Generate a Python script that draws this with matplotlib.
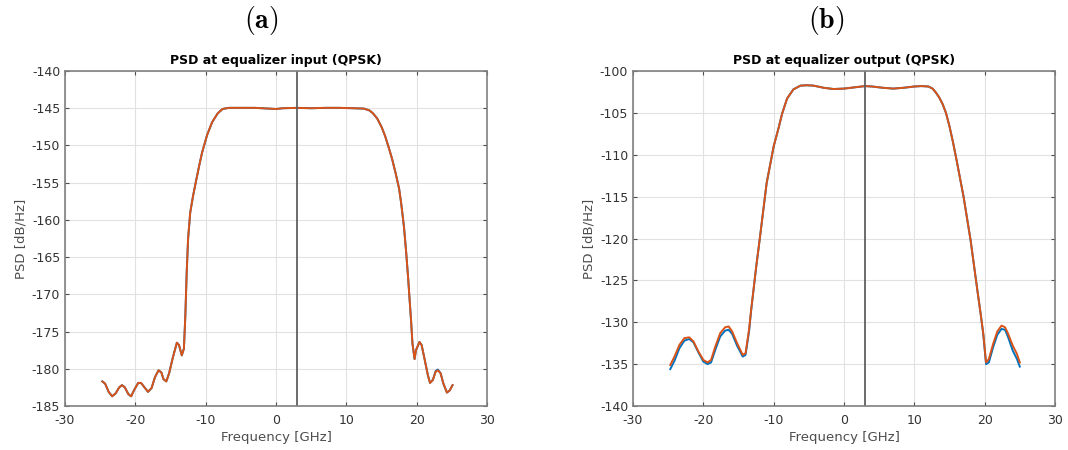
import numpy as np
import matplotlib.pyplot as plt

### Data.
# (a) PSD at equalizer input
freq_in = [-24.7, -24.3, -23.8, -23.3, -22.8, -22.3, -21.9, -21.5, -21.0, -20.6,
           -20.2, -19.6, -19.2, -18.7, -18.2, -17.7, -17.2, -16.7, -16.3, -16.0,
           -15.6, -15.2, -14.7, -14.1, -13.8, -13.4, -13.1, -12.9, -12.7, -12.5,
           -12.2, -11.8, -11.4, -10.9, -10.5, -9.8, -9.1, -8.3, -7.6, -6.7,
           -5.0, -3.0, -1.0, 0.0, 1.0, 3.0, 5.0, 7.0, 9.0, 11.0,
           12.5, 13.3, 13.8, 14.4, 15.0, 15.5, 16.0, 16.5, 17.0, 17.5,
           17.8, 18.2, 18.5, 18.8, 19.0, 19.2, 19.4, 19.7, 19.9, 20.4,
           20.7, 21.1, 21.6, 21.9, 22.3, 22.7, 23.0, 23.4, 23.8, 24.3,
           24.7, 25.1]
psd_in_orange = [-181.7, -182.0, -183.1, -183.7, -183.3, -182.5, -182.2, -182.5, -183.4, -183.7,
                 -182.9, -181.9, -181.9, -182.5, -183.1, -182.6, -181.1, -180.2, -180.5, -181.4,
                 -181.7, -180.6, -178.6, -176.5, -176.8, -178.2, -177.3, -173.0, -167.0, -162.5,
                 -159.0, -156.8, -154.9, -152.6, -150.9, -148.6, -146.9, -145.7, -145.1, -144.95,
                 -144.95, -144.95, -145.05, -145.1, -145.0, -144.95, -145.0, -144.95, -144.95, -145.0,
                 -145.05, -145.3, -145.7, -146.4, -147.5, -148.7, -150.2, -151.8, -153.7, -155.8,
                 -157.8, -161.0, -164.3, -168.0, -170.8, -173.5, -176.6, -178.7, -177.5, -176.4,
                 -176.8, -178.6, -180.9, -181.9, -181.5, -180.4, -180.2, -180.6, -182.0, -183.2,
                 -182.9, -182.2]
psd_in_blue = [-181.7, -182.0, -183.1, -183.7, -183.3, -182.5, -182.2, -182.5, -183.4, -183.7,
               -182.9, -181.9, -181.9, -182.5, -183.1, -182.6, -181.1, -180.2, -180.5, -181.4,
               -181.7, -180.6, -178.6, -176.5, -176.8, -178.2, -177.3, -173.0, -167.0, -162.5,
               -159.0, -156.8, -154.9, -152.6, -150.9, -148.6, -146.9, -145.7, -145.1, -144.95,
               -144.95, -144.95, -145.05, -145.1, -145.0, -144.95, -145.0, -144.95, -144.95, -145.0,
               -145.05, -145.3, -145.7, -146.4, -147.5, -148.7, -150.2, -151.8, -153.7, -155.8,
               -157.8, -161.0, -164.3, -168.0, -170.8, -173.5, -176.6, -178.7, -177.5, -176.4,
               -176.8, -178.6, -180.9, -181.9, -181.5, -180.3, -180.1, -180.6, -182.0, -183.2,
               -182.9, -182.2]

# (b) PSD at equalizer output
freq_out = [-24.7, -24.1, -23.4, -22.7, -22.0, -21.4, -20.7, -20.0, -19.4, -18.9,
            -18.3, -17.6, -16.9, -16.4, -15.9, -15.2, -14.4, -14.0, -13.5, -13.2,
            -12.5, -12.0, -11.0, -10.0, -9.3, -8.8, -8.1, -7.2, -6.2, -5.3,
            -4.3, -2.9, -1.5, 0.0, 1.0, 2.0, 3.0, 4.0, 5.5, 7.0,
            8.5, 10.0, 11.0, 12.0, 12.6, 13.0, 13.5, 14.0, 14.5, 15.0,
            15.5, 16.0, 17.0, 18.0, 19.0, 19.4, 19.8, 20.2, 20.6, 21.2,
            21.8, 22.4, 22.9, 23.3, 24.0, 24.6, 25.0]
psd_out_orange = [-135.1, -134.1, -132.7, -131.9, -131.8, -132.3, -133.5, -134.5, -134.8, -134.5,
                  -132.9, -131.3, -130.6, -130.5, -131.1, -132.5, -133.9, -133.7, -130.9, -128.5,
                  -123.5, -120.2, -113.4, -109.0, -106.8, -105.1, -103.3, -102.2, -101.75, -101.7,
                  -101.75, -102.0, -102.15, -102.1, -102.0, -101.9, -101.8, -101.85, -102.0, -102.1,
                  -102.0, -101.85, -101.8, -101.85, -102.1, -102.5, -103.1, -103.9, -105.0, -106.6,
                  -108.5, -110.6, -115.0, -120.2, -126.4, -128.8, -131.3, -134.8, -134.4, -132.6,
                  -131.1, -130.4, -130.6, -131.3, -132.8, -133.8, -134.8]
psd_out_blue = [-135.6, -134.6, -133.1, -132.2, -132.0, -132.4, -133.6, -134.7, -135.0, -134.8,
                -133.3, -131.7, -131.0, -130.9, -131.4, -132.8, -134.1, -133.9, -131.1, -128.6,
                -123.5, -120.2, -113.4, -109.0, -106.8, -105.1, -103.3, -102.2, -101.75, -101.7,
                -101.75, -102.0, -102.15, -102.1, -102.0, -101.9, -101.8, -101.85, -102.0, -102.1,
                -102.0, -101.85, -101.8, -101.85, -102.1, -102.5, -103.1, -103.9, -105.0, -106.6,
                -108.5, -110.6, -115.0, -120.2, -126.4, -128.8, -131.4, -135.0, -134.8, -133.0,
                -131.5, -130.8, -130.9, -131.7, -133.4, -134.4, -135.3]

marker_freq = 3.0  # vertical line

### Plot.
plt.rcParams['font.family'] = 'DejaVu Sans'
plt.rcParams['mathtext.fontset'] = 'cm'
plt.rcParams['axes.unicode_minus'] = False
fig = plt.figure(figsize=(10.68, 4.5), dpi=100)

panels = [
    (0.0609, 0.245, '(a)', 'PSD at equalizer input (QPSK)', freq_in, psd_in_blue, psd_in_orange, (-185, -140)),
    (0.5927, 0.774, '(b)', 'PSD at equalizer output (QPSK)', freq_out, psd_out_blue, psd_out_orange, (-140, -100)),
]
for x0, xtag, tag, title, f, blue, orange, ylim in panels:
    ax = fig.add_axes([x0, 0.0978, 0.3951, 0.7444])
    ax.plot(f, blue, color='#0072BD', lw=1.4)
    ax.plot(f, orange, color='#D95319', lw=1.4)
    ax.axvline(marker_freq, color='#606060', lw=1.3)
    ax.set_xlim(-30, 30)
    ax.set_ylim(*ylim)
    ax.set_xticks(np.arange(-30, 31, 10))
    ax.set_yticks(np.arange(ylim[0], ylim[1] + 1, 5))
    ax.grid(True, color='#e2e2e2', lw=0.8)
    ax.set_axisbelow(True)
    ax.tick_params(axis='both', which='both', direction='in', labelsize=9,
                   colors='#4d4d4d', top=True, right=True, length=3, labelcolor='#333333')
    ax.tick_params(axis='x', pad=6)
    for s in ax.spines.values():
        s.set_color('#808080')
        s.set_linewidth(1.2)
    ax.set_xlabel('Frequency [GHz]', fontsize=9.5, color='#4d4d4d', labelpad=3)
    ax.set_ylabel('PSD [dB/Hz]', fontsize=9.5, color='#4d4d4d', labelpad=3)
    ax.set_title(title, fontsize=9, fontweight='bold', pad=5)
    fig.text(xtag, 0.955, r'$\mathbf{' + tag + '}$', fontsize=20,
             ha='center', va='center')

# Finalise plot.
fig.savefig('out.png', dpi=100)
